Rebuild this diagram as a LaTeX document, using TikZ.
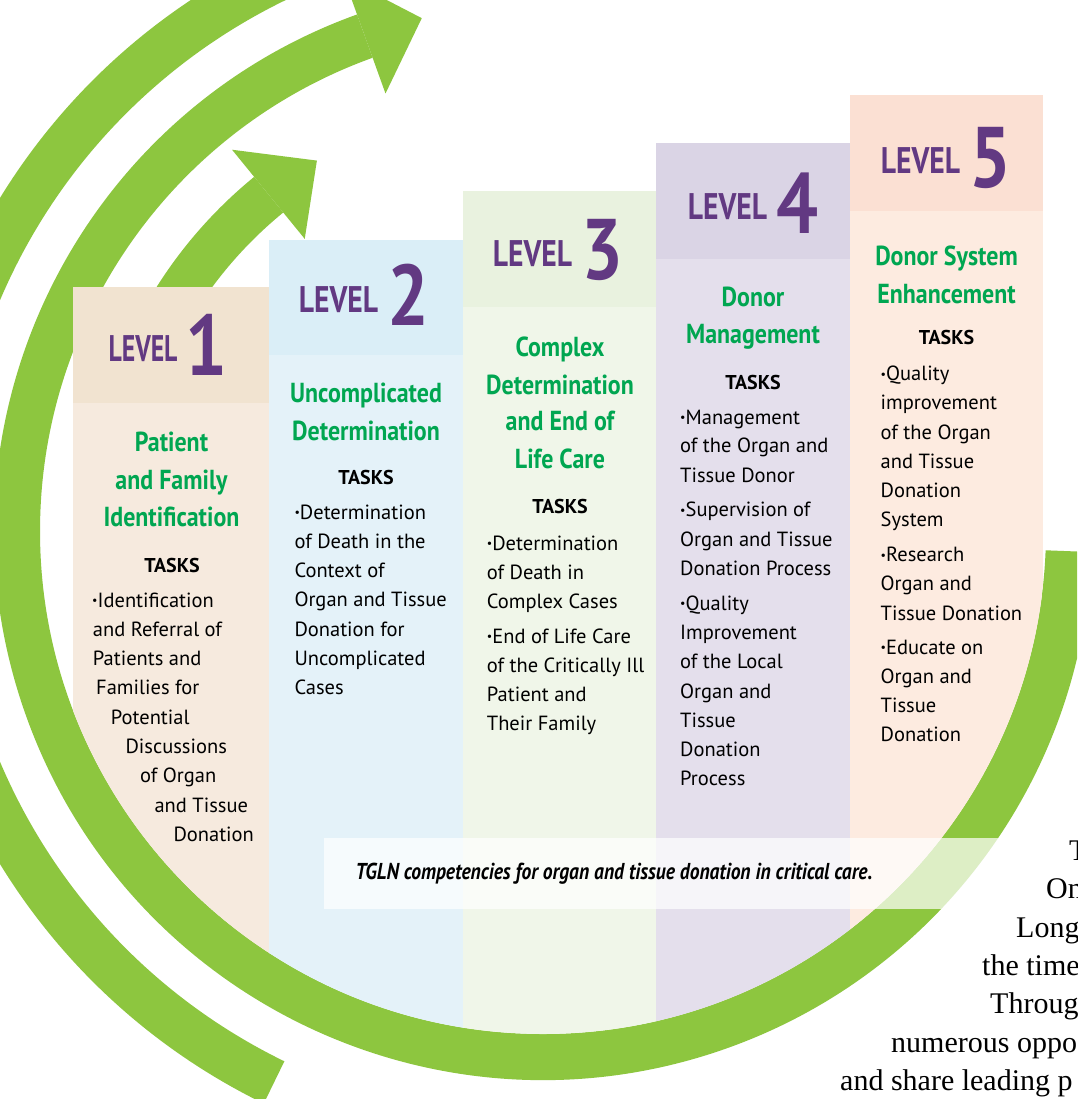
\documentclass[tikz,border=0pt]{standalone}
\usepackage{fontspec}
\usetikzlibrary{calc}
\setmainfont{PT Sans}
\newfontfamily\lvlfont[FakeStretch=0.80]{PT Sans}
\newfontfamily\numfont[FakeStretch=0.86]{PT Sans}
\newfontfamily\titlefont[FakeStretch=0.87]{PT Sans}
\newfontfamily\capfont[FakeStretch=0.85]{PT Sans}
\newfontfamily\bookserif{Liberation Serif}

\definecolor{ringgreen}{RGB}{141,198,63}
\definecolor{titlegreen}{RGB}{0,166,81}
\definecolor{levelpurple}{RGB}{98,57,130}
\definecolor{headA}{RGB}{241,227,208}
\definecolor{bodyA}{RGB}{246,234,222}
\definecolor{headB}{RGB}{218,238,247}
\definecolor{bodyB}{RGB}{228,242,249}
\definecolor{headC}{RGB}{233,242,223}
\definecolor{bodyC}{RGB}{240,246,233}
\definecolor{headD}{RGB}{218,212,229}
\definecolor{bodyD}{RGB}{228,223,236}
\definecolor{headE}{RGB}{251,224,211}
\definecolor{bodyE}{RGB}{253,235,224}

\newcommand\bul{\raisebox{2.5pt}{\fontsize{12}{12}\selectfont\textbullet}}
\newcommand\lvlnum[1]{\raisebox{-13.5pt}{\numfont\bfseries\fontsize{86}{86}\selectfont #1}}
\newcommand\lvl[1]{LEVEL\hspace{9pt}\lvlnum{#1}}

\tikzset{
  lvlhead/.style={anchor=base, inner sep=0pt, text=levelpurple,
    font=\lvlfont\bfseries\fontsize{37}{37}\selectfont},
  coltitle/.style={anchor=base, inner sep=0pt, text=titlegreen,
    font=\titlefont\bfseries\fontsize{27.5}{27.5}\selectfont},
  taskhead/.style={anchor=base, inner sep=0pt, text=black,
    font=\bfseries\fontsize{20}{20}\selectfont},
  taskline/.style={anchor=base west, inner sep=0pt, text=black,
    font=\fontsize{20.5}{20.5}\selectfont},
  captext/.style={anchor=base, inner sep=0pt, text=black,
    font=\capfont\bfseries\itshape\fontsize{23}{23}\selectfont},
  serifline/.style={anchor=base west, inner sep=0pt, text=black,
    font=\bookserif\fontsize{30}{30}\selectfont}
}

\begin{document}
\begin{tikzpicture}[x=1pt,y=-1pt]
\clip (0,0) rectangle (1077,1099);
\fill[white] (0,0) rectangle (1077,1099);

\coordinate (C) at (543,531);

% outermost sweep, squared off at the lower left
\fill[ringgreen] ($(C)+(-100:637)$) arc[start angle=-100, end angle=-244, radius=637]
  -- ($(C)+(-244:590)$) arc[start angle=-244, end angle=-100, radius=590] -- cycle;

% main ring with its arrowhead at the top
\fill[ringgreen] ($(C)+(-109.8:549)$) arc[start angle=-109.8, end angle=-357.8, radius=549]
  -- ($(C)+(-357.8:503)$) arc[start angle=-357.8, end angle=-109.8, radius=503] -- cycle;
\fill[ringgreen] ($(C)+(-109.8:588)$) -- ($(C)+(-103.3:527)$) -- ($(C)+(-109.8:465)$) -- cycle;

% short inner arrow
\fill[ringgreen] ($(C)+(-129.2:457)$) arc[start angle=-129.2, end angle=-160, radius=457]
  -- ($(C)+(-160:411)$) arc[start angle=-160, end angle=-129.2, radius=411] -- cycle;
\fill[ringgreen] ($(C)+(-129.2:492)$) -- ($(C)+(-121.4:434)$) -- ($(C)+(-129.2:377)$) -- cycle;

% the five level columns, cut by the inside of the ring
\begin{scope}
  \clip ($(C)+(180:503)$) arc[start angle=180, end angle=0, radius=503]
    -- (1100,531) -- (1100,-10) -- (20,-10) -- (20,531) -- cycle;
  \fill[bodyA] (73,287) rectangle (269.5,1099);
  \fill[headA] (73,287) rectangle (269.5,403);
  \fill[bodyB] (269,240) rectangle (463.5,1099);
  \fill[headB] (269,240) rectangle (463.5,355);
  \fill[bodyC] (463,191) rectangle (656.5,1099);
  \fill[headC] (463,191) rectangle (656.5,307);
  \fill[bodyD] (656,143) rectangle (850.5,1099);
  \fill[headD] (656,143) rectangle (850.5,259);
  \fill[bodyE] (850,95) rectangle (1043,1099);
  \fill[headE] (850,95) rectangle (1043,211);
\end{scope}

% level headings
\node[lvlhead] (lv1) at (168,361.7) {\scalebox{0.87}[1]{LEVEL}\hspace{8pt}\lvlnum{1}};
\node[lvlhead] (lv2) at (364,312.3) {\lvl{2}};
\node[lvlhead] (lv3) at (558,266) {\lvl{3}};
\node[lvlhead] (lv4) at (753,220) {\lvl{4}};
\node[lvlhead] (lv5) at (946,174) {\lvl{5}};

% column titles
\foreach \yy/\txt [count=\i] in {451/Patient, 489/and Family, 526.7/Identification}
  \node[coltitle] (ta\i) at (171.5,\yy) {\txt};
\foreach \yy/\txt [count=\i] in {402.5/Uncomplicated, 440/Determination}
  \node[coltitle] (tb\i) at (366,\yy) {\txt};
\foreach \yy/\txt [count=\i] in {356.5/Complex, 394/Determination, 430.7/and End of, 468.3/Life Care}
  \node[coltitle] (tc\i) at (560,\yy) {\txt};
\foreach \yy/\txt [count=\i] in {306.7/Donor, 343/Management}
  \node[coltitle] (td\i) at (753,\yy) {\txt};
\foreach \yy/\txt [count=\i] in {265/Donor System, 303/Enhancement}
  \node[coltitle] (te\i) at (946.5,\yy) {\txt};

% TASKS labels
\node[taskhead] (ka) at (172,572.3) {TASKS};
\node[taskhead] (kb) at (366,484.3) {TASKS};
\node[taskhead] (kc) at (560,513.3) {TASKS};
\node[taskhead] (kd) at (753,389) {TASKS};
\node[taskhead] (ke) at (946.5,344) {TASKS};

% task lists
\foreach \yy/\xx/\txt [count=\i] in {607.3/92/{\bul Identification}, 636/92.7/{and Referral of},
    665/92.7/{Patients and}, 694.3/96/{Families for}, 724/110.7/{Potential},
    753.3/125.3/{Discussions}, 782.7/140/{of Organ}, 812.3/154.3/{and Tissue}, 841.7/173.3/{Donation}}
  \node[taskline] (la\i) at (\xx,\yy) {\txt};
\foreach \yy/\txt [count=\i] in {519/{\bul Determination}, 548.3/{of Death in the}, 577.7/{Context of},
    606.7/{Organ and Tissue}, 636/{Donation for}, 665/{Uncomplicated}, 694.3/{Cases}}
  \node[taskline] (lb\i) at (294.3,\yy) {\txt};
\foreach \yy/\txt [count=\i] in {550/{\bul Determination}, 579/{of Death in}, 608.3/{Complex Cases},
    643.3/{\bul End of Life Care}, 672.3/{of the Critically Ill}, 701.7/{Patient and}, 730.7/{Their Family}}
  \node[taskline] (lc\i) at (486.7,\yy) {\txt};
\foreach \yy/\txt [count=\i] in {424/{\bul Management}, 452.7/{of the Organ and}, 482.7/{Tissue Donor},
    516.7/{\bul Supervision of}, 546.7/{Organ and Tissue}, 575.7/{Donation Process},
    610/{\bul Quality}, 639.3/{Improvement}, 668.3/{of the Local}, 698.3/{Organ and},
    727.3/{Tissue}, 756.7/{Donation}, 785.7/{Process}}
  \node[taskline] (ld\i) at (680,\yy) {\txt};
\foreach \yy/\txt [count=\i] in {380.5/{\bul Quality}, 409.7/{improvement}, 439/{of the Organ},
    468.3/{and Tissue}, 497.7/{Donation}, 526.7/{System},
    561.7/{\bul Research}, 590.7/{Organ and}, 620/{Tissue Donation},
    654/{\bul Educate on}, 683.3/{Organ and}, 712.3/{Tissue}, 741.7/{Donation}}
  \node[taskline] (le\i) at (880.5,\yy) {\txt};

% caption band
\fill[white, fill opacity=0.7] (324,838) rectangle (1000,909);
\node[captext] (cap) at (614,879.3) {TGLN competencies for organ and tissue donation in critical care.};

% running text beside the ring
\foreach \yy/\xx/\txt [count=\i] in {860/1069/T, 898/1046/On, 937/1016/Long, 975/982/the time,
    1013/990/Throug, 1052/891/numerous oppo, 1090/840/and share leading p}
  \node[serifline] (s\i) at (\xx,\yy) {\txt};
\end{tikzpicture}
\end{document}
